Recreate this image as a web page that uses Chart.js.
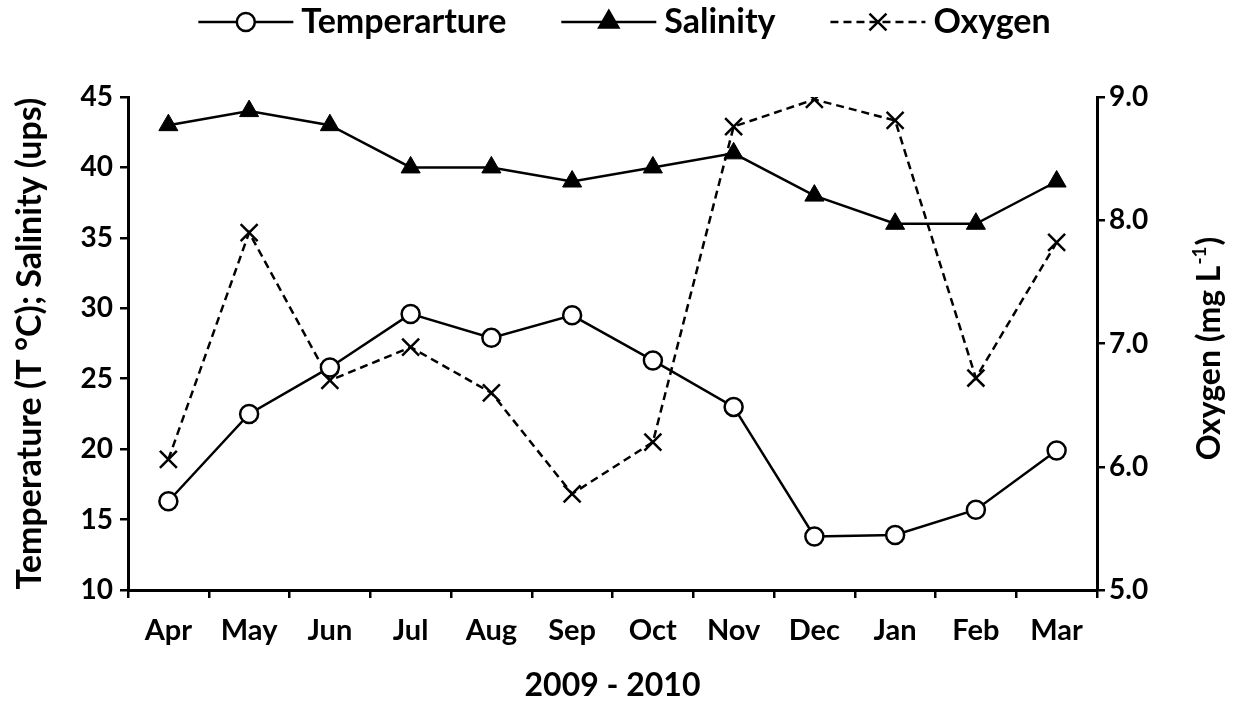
<!DOCTYPE html>
<html>
<head>
<meta charset="utf-8">
<script src="https://cdn.jsdelivr.net/npm/chart.js"></script>
<style>
  html, body { margin: 0; padding: 0; background: #fff; }
  #wrap { width: 1233px; height: 703px; }
</style>
</head>
<body>
<div id="wrap"><canvas id="chart" width="1233" height="703"></canvas></div>
<script>
// ----------------------- data --------------------------------
const months = ["Apr", "May", "Jun", "Jul", "Aug", "Sep", "Oct", "Nov", "Dec", "Jan", "Feb", "Mar"];
const temperature = [16.3, 22.5, 25.8, 29.6, 27.9, 29.5, 26.3, 23.0, 13.8, 13.9, 15.7, 19.9];
const salinity = [43, 44, 43, 40, 40, 39, 40, 41, 38, 36, 36, 39];
const oxygen = [6.06, 7.90, 6.70, 6.97, 6.60, 5.78, 6.20, 8.76, 8.98, 8.81, 6.72, 7.82];
const seriesNames = ["Temperarture", "Salinity", "Oxygen"];
const leftRange = [10, 45, 5];   // min, max, step
const rightRange = [5, 9, 1];
const xTitle = "2009 - 2010";
const leftTitle = "Temperature (T \u00B0C); Salinity (ups)";

const FONT = "Lato, 'Open Sans', sans-serif";
Chart.defaults.color = "#000";
Chart.defaults.font.family = FONT;
Chart.defaults.font.weight = "bold";

// legend drawn by hand: line + marker + label, like the original
const legendPlugin = {
  id: "manualLegend",
  afterDraw(chart) {
    const ctx = chart.ctx;
    const symW = 95, gapText = 8, gapItem = 55, y = 22;
    ctx.save();
    ctx.font = "bold 34px " + FONT;
    const items = chart.data.datasets.map(ds => ({ds: ds, w: ctx.measureText(ds.label).width}));
    let total = 0;
    items.forEach((it, i) => { total += symW + gapText + it.w + (i ? gapItem : 0); });
    let x = (chart.width - total) / 2 + 8;
    items.forEach(it => {
      const ds = it.ds;
      ctx.strokeStyle = "#000";
      ctx.lineWidth = 2.5;
      ctx.setLineDash(ds.borderDash || []);
      ctx.beginPath();
      ctx.moveTo(x, y);
      ctx.lineTo(x + symW, y);
      ctx.stroke();
      ctx.setLineDash([]);
      ctx.fillStyle = ds.pointBackgroundColor;
      Chart.helpers.drawPoint(ctx, {
        pointStyle: ds.pointStyle,
        radius: ds.pointRadius,
        rotation: 0,
        borderWidth: ds.pointBorderWidth
      }, x + symW / 2, y);
      ctx.fillStyle = "#000";
      ctx.textAlign = "left";
      ctx.textBaseline = "middle";
      ctx.fillText(ds.label, x + symW + gapText, y);
      x += symW + gapText + it.w + gapItem;
    });
    ctx.restore();

    // right axis title, reading bottom to top
    const right = chart.scales.y2;
    const cy = (chart.chartArea.top + chart.chartArea.bottom) / 2 + 6;
    ctx.save();
    ctx.translate(right.right - 23, cy);
    ctx.rotate(-Math.PI / 2);
    ctx.fillStyle = "#000";
    ctx.textBaseline = "middle";
    ctx.font = "bold 32px " + FONT;
    const a = "Oxygen (mg L", sup = "-1", b = ")";
    const wa = ctx.measureText(a).width, wb = ctx.measureText(b).width;
    ctx.font = "bold 19px " + FONT;
    const ws = ctx.measureText(sup).width;
    let sx = -(wa + ws + wb) / 2;
    ctx.font = "bold 32px " + FONT;
    ctx.textAlign = "left";
    ctx.fillText(a, sx, 0);
    ctx.font = "bold 19px " + FONT;
    ctx.fillText(sup, sx + wa + 1, -10);
    ctx.font = "bold 32px " + FONT;
    ctx.fillText(b, sx + wa + ws + 2, 0);
    ctx.restore();
  }
};

const axisGrid = {
  drawOnChartArea: false,
  drawTicks: true,
  tickLength: 8,
  color: "#000",
  lineWidth: 2.5
};

const ctx = document.querySelector("#chart").getContext("2d");
const lineChart = new Chart(ctx, {
  type: "line",
  data: {
    labels: months,
    datasets: [{
      label: seriesNames[0],
      data: temperature,
      yAxisID: "y",
      borderColor: "#000",
      borderWidth: 2.5,
      pointStyle: "circle",
      pointRadius: 9,
      pointBorderWidth: 2.5,
      pointBackgroundColor: "#fff",
      pointBorderColor: "#000",
      tension: 0
    }, {
      label: seriesNames[1],
      data: salinity,
      yAxisID: "y",
      borderColor: "#000",
      borderWidth: 2.5,
      pointStyle: "triangle",
      pointRadius: 11,
      pointBorderWidth: 1,
      pointBackgroundColor: "#000",
      pointBorderColor: "#000",
      tension: 0
    }, {
      label: seriesNames[2],
      data: oxygen,
      yAxisID: "y2",
      borderColor: "#000",
      borderWidth: 2.5,
      borderDash: [8, 5],
      pointStyle: "crossRot",
      pointRadius: 12,
      pointBorderWidth: 2.5,
      pointBackgroundColor: "#000",
      pointBorderColor: "#000",
      tension: 0
    }]
  },
  options: {
    responsive: false,
    animation: false,
    layout: { padding: { top: 97, left: 0, right: 0, bottom: 0 } },
    plugins: {
      legend: { display: false },
      tooltip: { enabled: false }
    },
    scales: {
      x: {
        offset: true,
        grid: Object.assign({}, axisGrid, { offset: true }),
        border: { color: "#000", width: 3 },
        ticks: { font: { size: 29, weight: "bold" }, padding: 15, maxRotation: 0 },
        title: { display: true, text: xTitle, font: { size: 32, weight: "bold", lineHeight: 1 }, padding: { top: 0, bottom: 1 } },
        afterFit: function(scale) { scale.height = 113; }
      },
      y: {
        position: "left",
        min: leftRange[0],
        max: leftRange[1],
        grid: axisGrid,
        border: { color: "#000", width: 3 },
        ticks: { stepSize: leftRange[2], font: { size: 28, weight: "bold" }, padding: 7 },
        title: { display: true, text: leftTitle, font: { size: 34, weight: "bold", lineHeight: 1 }, padding: { top: 13, bottom: 0 } },
        afterFit: function(scale) { scale.width = 128; }
      },
      y2: {
        position: "right",
        min: rightRange[0],
        max: rightRange[1],
        grid: axisGrid,
        border: { color: "#000", width: 3 },
        ticks: {
          stepSize: rightRange[2],
          font: { size: 28, weight: "bold" },
          padding: 4,
          callback: function(v) { return Number(v).toFixed(1); }
        },
        afterFit: function(scale) { scale.width = 136; }
      }
    }
  },
  plugins: [legendPlugin]
});
</script>
</body>
</html>
